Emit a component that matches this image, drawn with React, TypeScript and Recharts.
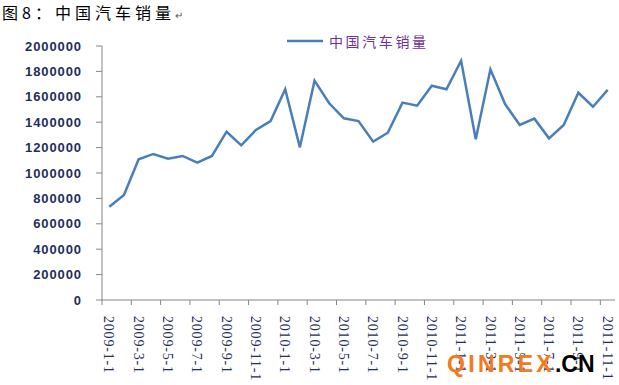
import React from "react";
import { LineChart, Line, XAxis, YAxis, Legend } from "recharts";

const categories: string[] = [
  "2009-1-1", "2009-2-1", "2009-3-1", "2009-4-1", "2009-5-1", "2009-6-1",
  "2009-7-1", "2009-8-1", "2009-9-1", "2009-10-1", "2009-11-1", "2009-12-1",
  "2010-1-1", "2010-2-1", "2010-3-1", "2010-4-1", "2010-5-1", "2010-6-1",
  "2010-7-1", "2010-8-1", "2010-9-1", "2010-10-1", "2010-11-1", "2010-12-1",
  "2011-1-1", "2011-2-1", "2011-3-1", "2011-4-1", "2011-5-1", "2011-6-1",
  "2011-7-1", "2011-8-1", "2011-9-1", "2011-10-1", "2011-11-1",
];

const sales: number[] = [
  735000, 827000, 1108000, 1150000, 1113000, 1134000,
  1081000, 1134000, 1325000, 1218000, 1339000, 1409000,
  1659000, 1202000, 1727000, 1549000, 1431000, 1409000,
  1247000, 1317000, 1554000, 1530000, 1687000, 1659000,
  1884000, 1265000, 1816000, 1543000, 1378000, 1428000,
  1273000, 1378000, 1632000, 1522000, 1654000,
];

const yTicks: number[] = [0, 200000, 400000, 600000, 800000, 1000000, 1200000, 1400000, 1600000, 1800000, 2000000];

const seriesName = "中国汽车销量";
const titleText = "图8：中国汽车销量";

const data = categories.map((c, i) => ({ month: c, sales: sales[i] }));

const W = 619;
const H = 385;
const MARGIN = { top: 46, right: 4, bottom: 0, left: 0 };
const Y_AXIS_W = 102;
const X_AXIS_H = 85;
const PLOT_W = W - MARGIN.left - MARGIN.right - Y_AXIS_W;
const HALF_STEP = PLOT_W / categories.length / 2;

const AXIS_COLOR = "#868686";
const LABEL_COLOR = "#1F2D5A";
const LINE_COLOR = "#4A7EBB";

const XTick = (props: any) => {
  const { x, y, payload } = props;
  return (
    <g>
      <line x1={x - HALF_STEP} y1={y - 5} x2={x - HALF_STEP} y2={y} stroke={AXIS_COLOR} strokeWidth={1} />
      <text
        x={x}
        y={y + 11}
        transform={`rotate(90, ${x}, ${y + 11})`}
        dy="0.35em"
        textAnchor="start"
        fill={LABEL_COLOR}
        fontFamily="'Liberation Serif', 'Times New Roman', serif"
        fontSize={14}
        letterSpacing={0.8}
      >
        {payload.value}
      </text>
    </g>
  );
};

const LegendContent = (props: any) => {
  const { payload } = props;
  return (
    <div style={{ display: "flex", alignItems: "center" }}>
      {(payload || []).map((p: any) => (
        <div key={p.value} style={{ display: "flex", alignItems: "center" }}>
          <svg width={36} height={6} style={{ display: "block" }}>
            <line x1={0} y1={3} x2={36} y2={3} stroke={p.color} strokeWidth={2.5} />
          </svg>
          <span
            style={{
              marginLeft: 6,
              color: "#7030A0",
              fontFamily: "'Noto Sans CJK SC', sans-serif",
              fontSize: 14,
              letterSpacing: 2.6,
              lineHeight: "20px",
              whiteSpace: "nowrap",
            }}
          >
            {p.value}
          </span>
        </div>
      ))}
    </div>
  );
};

export default function App() {
  return (
    <div style={{ position: "absolute", left: 0, top: 0, width: W, height: H, background: "#fff" }}>
      <LineChart width={W} height={H} data={data} margin={MARGIN}>
        <XAxis
          dataKey="month"
          type="category"
          height={X_AXIS_H}
          interval={1}
          padding={{ left: HALF_STEP, right: HALF_STEP }}
          axisLine={{ stroke: AXIS_COLOR, strokeWidth: 1 }}
          tickLine={false}
          tickSize={5}
          tickMargin={0}
          tick={<XTick />}
        />
        <YAxis
          width={Y_AXIS_W}
          domain={[0, 2000000]}
          ticks={yTicks}
          interval={0}
          axisLine={{ stroke: AXIS_COLOR, strokeWidth: 1 }}
          tickLine={{ stroke: AXIS_COLOR, strokeWidth: 1 }}
          tickSize={6}
          tickMargin={14}
          tick={{
            fill: LABEL_COLOR,
            fontFamily: "'Liberation Sans', Arial, sans-serif",
            fontWeight: "bold",
            fontSize: 13,
            letterSpacing: 0.9,
          }}
        />
        <Legend
          verticalAlign="middle"
          layout="horizontal"
          wrapperStyle={{ top: 31, left: 287, width: "auto", height: "auto" }}
          content={<LegendContent />}
        />
        <Line
          type="linear"
          dataKey="sales"
          name={seriesName}
          stroke={LINE_COLOR}
          strokeWidth={2.5}
          dot={false}
          activeDot={false}
          isAnimationActive={false}
        />
      </LineChart>
      <svg
        width={W}
        height={H}
        style={{ position: "absolute", left: 0, top: 0, pointerEvents: "none" }}
      >
        <text
          x={2}
          y={19}
          fontFamily="'Noto Sans CJK SC', sans-serif"
          fontSize={16}
          letterSpacing={4}
          fill="#000"
        >
          {titleText}
          <tspan fontSize={10} fill="#555" letterSpacing={0}>↵</tspan>
        </text>
        <text
          x={447}
          y={372}
          fontFamily="'Liberation Sans', Arial, sans-serif"
          fontWeight="bold"
          fontSize={23}
        >
          <tspan fill="#F47A20" letterSpacing={3.3}>QINREX</tspan>
          <tspan fill="#000">.CN</tspan>
        </text>
      </svg>
    </div>
  );
}
